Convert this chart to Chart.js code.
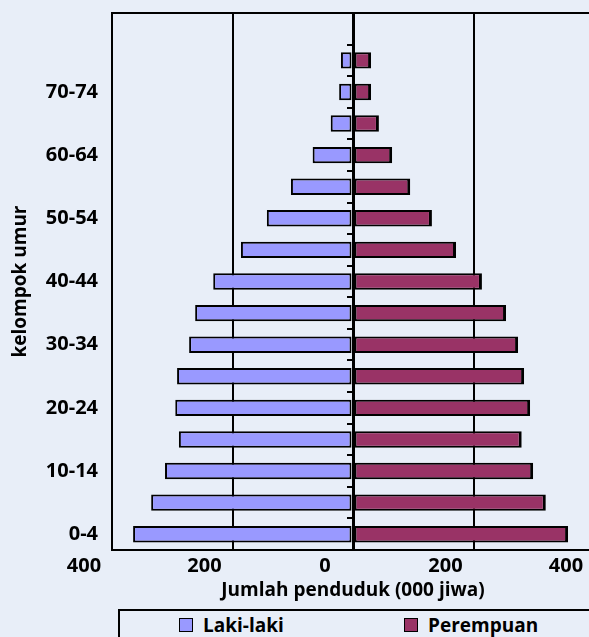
<!DOCTYPE html>
<html>
<head>
<meta charset="utf-8">
<script src="https://cdn.jsdelivr.net/npm/chart.js@4.4.1/dist/chart.umd.min.js"></script>
<style>
  html, body { margin:0; padding:0; background:#E8EEF8; overflow:hidden; width:589px; height:637px; }
  #wrap { position:absolute; left:0; top:0; }
  #legend { position:absolute; left:118px; top:609px; width:600px; height:40px; border:2px solid #000; box-sizing:border-box; font:bold 19px "Open Sans"; color:#000; }
  .item { position:absolute; top:1px; display:flex; align-items:center; line-height:26px; }
  .box { width:14px; height:14px; border:1.5px solid #000; box-sizing:border-box; margin-right:10px; }
</style>
</head>
<body>
<div id="wrap"><canvas id="myChart" width="600" height="605"></canvas></div>
<div id="legend"></div>
<script>
// kelompok umur (bawah ke atas), baris teratas kosong
var ageGroups = ['0-4','5-9','10-14','15-19','20-24','25-29','30-34','35-39','40-44','45-49','50-54','55-59','60-64','65-69','70-74','75+',''];
// ribuan jiwa
var maleValues   = [365,335,312,289,295,292,272,262,232,186,143,103,67,37,23,20,null];
var femaleValues = [357,320,299,280,294,284,274,254,214,171,131,95,65,43,30,30,null];
var xTicks = [-400,-200,0,200,400];
var seriesNames = ['Laki-laki','Perempuan'];
var seriesColors = ['#9999FF','#993366'];

Chart.defaults.font.family = '"Open Sans", sans-serif';
Chart.defaults.font.weight = 'bold';
Chart.defaults.color = '#000';

// garis atas kotak plot
var frame = {
  id: 'frame',
  afterDraw: function(chart){
    var a = chart.chartArea, ctx = chart.ctx;
    ctx.save();
    ctx.strokeStyle = '#000';
    ctx.lineWidth = 2;
    ctx.beginPath();
    ctx.moveTo(a.left - 1, a.top);
    ctx.lineTo(a.right, a.top);
    ctx.stroke();
    ctx.restore();
  }
};

var chart = new Chart(document.getElementById('myChart'), {
  type: 'bar',
  data: {
    labels: ageGroups,
    datasets: [
      {
        label: seriesNames[0],
        data: maleValues.map(function(v){ return v == null ? null : -v; }),
        backgroundColor: seriesColors[0],
        borderColor: '#000',
        borderWidth: 2,
        borderSkipped: false
      },
      {
        label: seriesNames[1],
        data: femaleValues,
        backgroundColor: seriesColors[1],
        borderColor: '#000',
        borderWidth: {top:2, bottom:2, left:2, right:3},
        borderSkipped: false
      }
    ]
  },
  options: {
    indexAxis: 'y',
    responsive: false,
    animation: false,
    barPercentage: 0.52,
    categoryPercentage: 1,
    layout: { padding: { top: 13, right: 6, left: 0, bottom: 0 } },
    plugins: { legend: { display: false }, tooltip: { enabled: false } },
    scales: {
      x: {
        stacked: true,
        min: -400, max: 400,
        afterFit: function(s){ s.height = 55; s.paddingLeft = 0; s.paddingRight = 0; },
        afterBuildTicks: function(s){ s.ticks = xTicks.map(function(v){ return {value: v}; }); },
        grid: {
          color: '#000',
          lineWidth: function(c){ return c.tick && c.tick.value === 0 ? 3 : 2; },
          drawTicks: false
        },
        border: { display: true, color: '#000', width: 2 },
        ticks: {
          font: { size: 20 },
          padding: 4,
          labelOffset: -28,
          callback: function(v){ return Math.abs(v); }
        },
        title: {
          display: true,
          text: 'Jumlah penduduk (000 jiwa)',
          font: { size: 19 },
          padding: { top: 0, bottom: 3 }
        }
      },
      y: {
        stacked: true,
        reverse: true,
        afterFit: function(s){ s.width = 112; s.paddingTop = 0; s.paddingBottom = 0; },
        grid: { drawOnChartArea: false, drawTicks: false },
        border: { display: true, color: '#000', width: 2 },
        ticks: {
          autoSkip: false,
          font: { size: 20 },
          padding: 14,
          callback: function(v, i){ return i % 2 === 0 ? ageGroups[i] : ''; }
        },
        title: {
          display: true,
          text: 'kelompok umur',
          font: { size: 19 },
          padding: { top: 9, bottom: 0 }
        }
      },
      y2: {
        type: 'category',
        position: { x: 0 },
        reverse: true,
        offset: true,
        afterFit: function(s){ s.paddingTop = 0; s.paddingBottom = 0; },
        grid: { offset: true, drawOnChartArea: false, color: '#000', lineWidth: 2, tickLength: 6 },
        border: { display: false },
        ticks: { display: false }
      }
    }
  },
  plugins: [frame]
});

// legenda dari dataset
var lg = document.getElementById('legend');
var lefts = [59, 284];
chart.data.datasets.forEach(function(ds, i){
  var it = document.createElement('div');
  it.className = 'item';
  it.style.left = lefts[i] + 'px';
  var b = document.createElement('span');
  b.className = 'box';
  b.style.background = ds.backgroundColor;
  var t = document.createElement('span');
  t.textContent = ds.label;
  it.appendChild(b);
  it.appendChild(t);
  lg.appendChild(it);
});
</script>
</body>
</html>
